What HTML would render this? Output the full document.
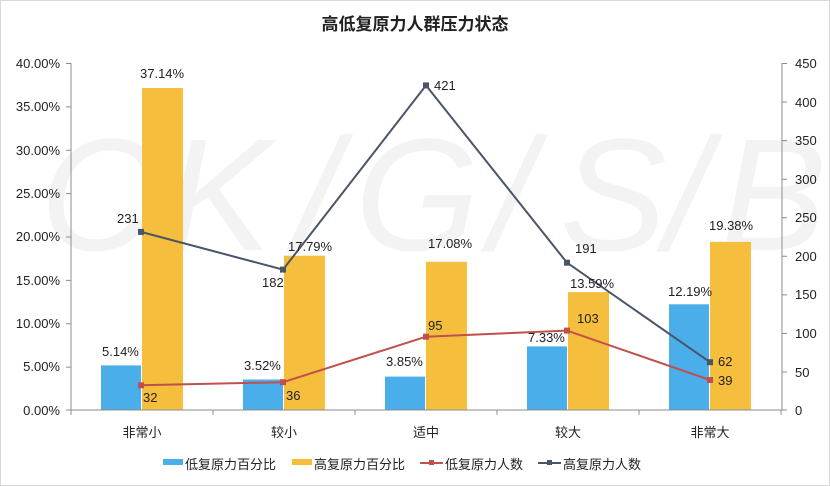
<!DOCTYPE html>
<html><head><meta charset="utf-8"><style>
body{margin:0;background:#fff}
svg{display:block;font-family:"Liberation Sans","Noto Sans CJK SC",sans-serif}
</style></head><body>
<svg width="830" height="486" viewBox="0 0 830 486">
<rect x="0.5" y="0.5" width="829" height="485" fill="#fff" stroke="#d9d9d9"/>
<g font-size="160" fill="#f3f3f3" font-style="italic">
<text x="40" y="250">C</text><text x="165" y="250">K</text><text x="295" y="250">/</text><text x="355" y="250">G</text><text x="490" y="250">/</text><text x="560" y="250">S</text><text x="665" y="250">/</text><text x="720" y="250">B</text>
</g>
<text x="415" y="30" text-anchor="middle" font-size="17" font-weight="bold" fill="#222">高低复原力人群压力状态</text>
<g fill="#4aaeea">
<rect x="101" y="365.4" width="40" height="44.6"/>
<rect x="243" y="379.5" width="40" height="30.5"/>
<rect x="385" y="376.6" width="40" height="33.4"/>
<rect x="527" y="346.4" width="40" height="63.6"/>
<rect x="669" y="304.3" width="40" height="105.7"/>
</g>
<g fill="#f5be3d">
<rect x="142" y="88" width="41" height="322"/>
<rect x="284" y="255.7" width="41" height="154.3"/>
<rect x="426" y="261.8" width="41" height="148.2"/>
<rect x="568" y="292.1" width="41" height="117.9"/>
<rect x="710" y="241.9" width="41" height="168.1"/>
</g>
<g stroke="#8c8c8c" stroke-width="1">
<line x1="71" y1="63" x2="71" y2="410"/>
<line x1="71" y1="410" x2="782" y2="410"/>
<line x1="782" y1="63" x2="782" y2="410"/>
</g>
<g stroke="#8c8c8c">
<path d="M66 63.5h5M66 106.9h5M66 150.3h5M66 193.6h5M66 237h5M66 280.4h5M66 323.8h5M66 367.1h5M66 410h5"/>
<path d="M782 63.5h5M782 102h5M782 140.6h5M782 179.2h5M782 217.7h5M782 256.3h5M782 294.9h5M782 333.4h5M782 372h5M782 410h5"/>
<path d="M71 410v5M213 410v5M355 410v5M497 410v5M639 410v5M781 410v5"/>
</g>
<g font-size="13" fill="#222" text-anchor="end">
<text x="60" y="68">40.00%</text><text x="60" y="111">35.00%</text><text x="60" y="155">30.00%</text><text x="60" y="198">25.00%</text><text x="60" y="241">20.00%</text><text x="60" y="285">15.00%</text><text x="60" y="328">10.00%</text><text x="60" y="371">5.00%</text><text x="60" y="415">0.00%</text>
</g>
<g font-size="13" fill="#222">
<text x="795" y="68">450</text><text x="795" y="107">400</text><text x="795" y="145">350</text><text x="795" y="184">300</text><text x="795" y="222">250</text><text x="795" y="261">200</text><text x="795" y="299">150</text><text x="795" y="338">100</text><text x="795" y="377">50</text><text x="795" y="415">0</text>
</g>
<g font-size="13" fill="#222" text-anchor="middle">
<text x="142" y="437">非常小</text><text x="284" y="437">较小</text><text x="426" y="437">适中</text><text x="568" y="437">较大</text><text x="710" y="437">非常大</text>
</g>
<polyline points="141,385.3 283,382.2 426,336.7 567,330.6 710,380" fill="none" stroke="#c0504d" stroke-width="2"/>
<polyline points="141,231.9 283,269.6 426,85.4 567,262.7 710,362.2" fill="none" stroke="#4a5568" stroke-width="2"/>
<g fill="#c0504d">
<rect x="138" y="382.3" width="6" height="6"/><rect x="280" y="379.2" width="6" height="6"/><rect x="423" y="333.7" width="6" height="6"/><rect x="564" y="327.6" width="6" height="6"/><rect x="707" y="377" width="6" height="6"/>
</g>
<g fill="#4a5568">
<rect x="138" y="228.9" width="6" height="6"/><rect x="280" y="266.6" width="6" height="6"/><rect x="423" y="82.4" width="6" height="6"/><rect x="564" y="259.7" width="6" height="6"/><rect x="707" y="359.2" width="6" height="6"/>
</g>
<g font-size="13" fill="#222">
<text x="140" y="78">37.14%</text><text x="102" y="356">5.14%</text>
<text x="288" y="251">17.79%</text><text x="244" y="370">3.52%</text>
<text x="428" y="248">17.08%</text><text x="386" y="366">3.85%</text>
<text x="570" y="288">13.59%</text><text x="528" y="342">7.33%</text>
<text x="709" y="230">19.38%</text><text x="668" y="296">12.19%</text>
<text x="117" y="223">231</text><text x="262" y="287">182</text><text x="434" y="90">421</text><text x="575" y="253">191</text><text x="718" y="366">62</text>
<text x="143" y="402">32</text><text x="286" y="400">36</text><text x="428" y="330">95</text><text x="577" y="323">103</text><text x="718" y="385">39</text>
</g>
<g font-size="13" fill="#222">
<rect x="163" y="459" width="20" height="6" fill="#4aaeea"/><text x="185" y="469">低复原力百分比</text>
<rect x="292" y="459" width="20" height="6" fill="#f5be3d"/><text x="314" y="469">高复原力百分比</text>
<line x1="420" y1="463" x2="443" y2="463" stroke="#c0504d" stroke-width="2"/><rect x="429" y="460" width="5" height="5" fill="#c0504d"/><text x="445" y="469">低复原力人数</text>
<line x1="538" y1="463" x2="561" y2="463" stroke="#4a5568" stroke-width="2"/><rect x="547" y="460" width="5" height="5" fill="#4a5568"/><text x="563" y="469">高复原力人数</text>
</g>
</svg>
</body></html>
